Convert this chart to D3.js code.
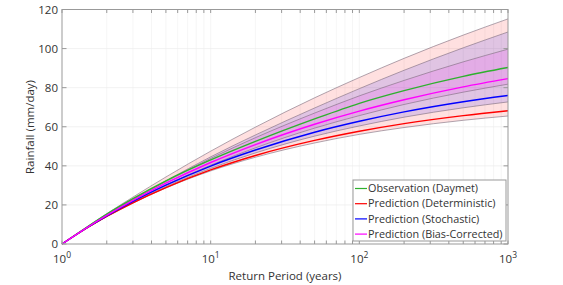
<!DOCTYPE html>
<html lang="en">

<head>
  <meta charset="UTF-8">
  <title>Return period curves</title>
  <script src="https://d3js.org/d3.v7.min.js"></script>
  <style>
    html,
    body {
      padding: 0;
      margin: 0;
      background: #fff;
    }

    text {
      font-family: "Open Sans", sans-serif;
      fill: #333;
    }
  </style>
</head>

<body>
  <script>
    const width = 563;
    const height = 285;

    // return periods (years) read along the x axis
    const returnPeriods = [1, 1.5, 2, 3, 5, 10, 20, 50, 100, 200, 500, 1000];

    // main curves (mm/day)
    const observation = [0, 9.1, 15.3, 23.2, 32.3, 43.0, 52.5, 64.0, 72.0, 78.5, 85.8, 90.3];
    const deterministic = [0, 8.6, 14.1, 21.1, 28.9, 37.9, 45.3, 53.0, 57.7, 61.6, 65.7, 68.2];
    const stochastic = [0, 8.7, 14.4, 21.8, 30.1, 39.9, 48.1, 57.2, 62.8, 67.6, 72.8, 76.0];
    const biasCorrected = [0, 8.8, 14.6, 22.3, 31.1, 41.7, 50.9, 61.3, 68.0, 73.8, 80.4, 84.6];

    // uncertainty bands
    const detLower = [0, 8.6, 14.1, 21.0, 28.7, 37.4, 44.4, 51.7, 56.1, 59.6, 63.3, 65.5];
    const detUpper = [0, 9.2, 15.5, 24.0, 34.3, 47.5, 59.8, 74.8, 85.2, 95.0, 106.9, 115.2];
    const stoLower = [0, 8.5, 14.1, 21.2, 29.3, 38.7, 46.6, 55.2, 60.4, 64.9, 69.7, 72.7];
    const stoUpper = [0, 8.9, 14.9, 22.8, 32.3, 44.6, 55.8, 69.6, 79.5, 88.9, 100.4, 108.5];
    const bcLower = [0, 8.5, 14.1, 21.5, 30.1, 40.3, 49.2, 59.3, 65.7, 71.4, 77.7, 81.8];
    const bcUpper = [0, 8.9, 14.8, 22.7, 32.0, 43.8, 54.4, 67.0, 75.8, 83.7, 93.2, 99.7];

    const xTicks = [1, 10, 100, 1000];
    const yTicks = [0, 20, 40, 60, 80, 100, 120];

    const legendLabels = [
      "Observation (Daymet)",
      "Prediction (Deterministic)",
      "Prediction (Stochastic)",
      "Prediction (Bias-Corrected)"
    ];

    const mLeft = 62, mRight = 508, mTop = 9.5, mBottom = 244;

    const x = d3.scaleLog().domain([1, 1000]).range([mLeft, mRight]);
    const y = d3.scaleLinear().domain([0, 120]).range([mBottom, mTop]);

    const svg = d3.select("body").append("svg")
      .attr("width", width)
      .attr("height", height);

    // minor + major x positions
    const xAll = [];
    for (let d = 1; d < 1000; d *= 10) {
      for (let k = 1; k < 10; k++) xAll.push(d * k);
    }
    xAll.push(1000);

    // grid
    svg.append("g").selectAll("line").data(xAll.slice(1, -1)).join("line")
      .attr("x1", d => x(d)).attr("x2", d => x(d))
      .attr("y1", mTop).attr("y2", mBottom)
      .attr("stroke", "#f0f0f0").attr("stroke-width", 0.6);
    svg.append("g").selectAll("line").data(yTicks.slice(1, -1)).join("line")
      .attr("x1", mLeft).attr("x2", mRight)
      .attr("y1", d => y(d)).attr("y2", d => y(d))
      .attr("stroke", "#ececec").attr("stroke-width", 0.7);

    const bands = [
      { lo: detLower, hi: detUpper, color: "#ff0000" },
      { lo: stoLower, hi: stoUpper, color: "#0000ff" },
      { lo: bcLower, hi: bcUpper, color: "#ff00ff" }
    ];

    const area = d3.area()
      .x(d => x(d.t))
      .y0(d => y(d.lo))
      .y1(d => y(d.hi))
      .curve(d3.curveMonotoneX);

    const line = d3.line()
      .x(d => x(d.t))
      .y(d => y(d.v))
      .curve(d3.curveMonotoneX);

    bands.forEach(b => {
      const pts = returnPeriods.map((t, i) => ({ t, lo: b.lo[i], hi: b.hi[i] }));
      svg.append("path")
        .attr("d", area(pts))
        .attr("fill", b.color)
        .attr("fill-opacity", 0.12);
    });

    // band edges
    bands.forEach(b => {
      [b.lo, b.hi].forEach(arr => {
        svg.append("path")
          .attr("d", line(returnPeriods.map((t, i) => ({ t, v: arr[i] }))))
          .attr("fill", "none")
          .attr("stroke", "#7a6a7a")
          .attr("stroke-opacity", 0.75)
          .attr("stroke-width", 0.8);
      });
    });

    const series = [
      { values: observation, color: "#2eb02e" },
      { values: deterministic, color: "#ff0000" },
      { values: stochastic, color: "#0000ff" },
      { values: biasCorrected, color: "#ff00ff" }
    ];

    series.forEach(s => {
      svg.append("path")
        .attr("d", line(returnPeriods.map((t, i) => ({ t, v: s.values[i] }))))
        .attr("fill", "none")
        .attr("stroke", s.color)
        .attr("stroke-width", 1.4);
    });

    // axes box
    svg.append("rect")
      .attr("x", mLeft).attr("y", mTop)
      .attr("width", mRight - mLeft).attr("height", mBottom - mTop)
      .attr("fill", "none").attr("stroke", "#999").attr("stroke-width", 1);

    // inward ticks, bottom and top
    const tickG = svg.append("g").attr("stroke", "#999").attr("stroke-width", 1);
    xAll.forEach(d => {
      tickG.append("line").attr("x1", x(d)).attr("x2", x(d)).attr("y1", mBottom).attr("y2", mBottom - 3.5);
      tickG.append("line").attr("x1", x(d)).attr("x2", x(d)).attr("y1", mTop).attr("y2", mTop + 3.5);
    });
    yTicks.forEach(d => {
      tickG.append("line").attr("x1", mLeft).attr("x2", mLeft + 4.5).attr("y1", y(d)).attr("y2", y(d));
      tickG.append("line").attr("x1", mRight).attr("x2", mRight - 4.5).attr("y1", y(d)).attr("y2", y(d));
    });

    // x tick labels with superscripts
    svg.append("g").selectAll("text").data(xTicks).join("text")
      .attr("x", d => x(d))
      .attr("y", 263)
      .attr("text-anchor", "middle")
      .attr("font-size", 11.5)
      .each(function (d) {
        const t = d3.select(this);
        t.append("tspan").text("10");
        t.append("tspan").attr("dy", -5).attr("font-size", 8.5).text(Math.round(Math.log10(d)));
      });

    // y tick labels
    svg.append("g").selectAll("text").data(yTicks).join("text")
      .attr("x", 58)
      .attr("y", d => y(d))
      .attr("dy", "0.35em")
      .attr("text-anchor", "end")
      .attr("font-size", 11.5)
      .text(d => d);

    svg.append("text")
      .attr("x", 285).attr("y", 280)
      .attr("text-anchor", "middle")
      .attr("font-size", 11.5)
      .text("Return Period (years)");

    svg.append("text")
      .attr("transform", "translate(34,127) rotate(-90)")
      .attr("text-anchor", "middle")
      .attr("font-size", 11.5)
      .text("Rainfall (mm/day)");

    // legend
    const lg = svg.append("g");
    lg.append("rect")
      .attr("x", 353).attr("y", 180)
      .attr("width", 153).attr("height", 61)
      .attr("fill", "#fff").attr("stroke", "#999").attr("stroke-width", 1);
    legendLabels.forEach((label, i) => {
      const ly = 188.5 + i * 15.2;
      lg.append("line")
        .attr("x1", 355).attr("x2", 367)
        .attr("y1", ly).attr("y2", ly)
        .attr("stroke", series[i].color).attr("stroke-width", 1.2);
      lg.append("text")
        .attr("x", 368).attr("y", ly)
        .attr("dy", "0.35em")
        .attr("font-size", 10.8)
        .text(label);
    });
  </script>
</body>

</html>
